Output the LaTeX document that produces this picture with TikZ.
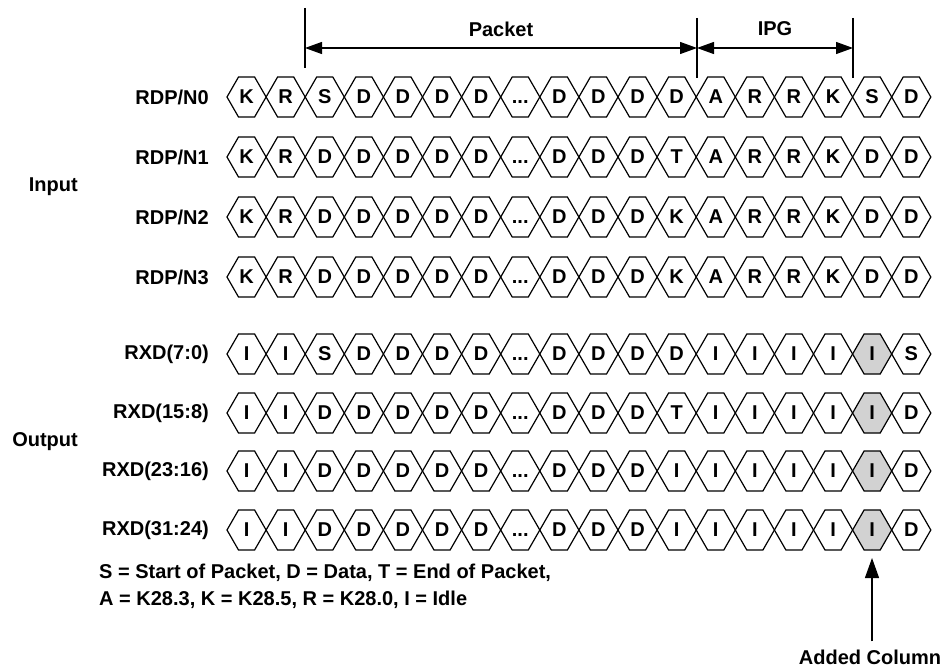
\documentclass[tikz,border=0pt]{standalone}
\usepackage{fontspec}
\setmainfont{Liberation Sans}
\usetikzlibrary{arrows.meta}
\newcommand\dts{...}
\begin{document}
\begin{tikzpicture}[x=1pt,y=-1pt,
  lbl/.style={font=\bfseries\fontsize{20}{23}\selectfont, inner sep=0pt},
  hexline/.style={draw=black, line width=1.2pt, line join=miter},
  tick/.style={line width=1.2pt},
  dimarrow/.style={{Triangle[length=17pt,width=12pt]}-{Triangle[length=17pt,width=12pt]}, line width=1.2pt},
  uparrow/.style={-{Triangle[length=20pt,width=14pt]}, line width=1.2pt},
  addfill/.style={fill={rgb,255:red,210;green,210;blue,210}}
]
\useasboundingbox (0,0) rectangle (947,669);
\fill[white] (0,0) rectangle (947,669);
\def\xo{227}\def\pp{39.1}\def\dd{11.5}\def\hh{20}
% grey cells (added column)
\foreach \yy in {354,413,471,530}{
  \pgfmathsetmacro\xa{\xo+16*\pp}
  \pgfmathsetmacro\xb{\xa+\pp}
  \fill[addfill] (\xa,\yy) -- (\xa+\dd,\yy-\hh) -- (\xb-\dd,\yy-\hh) -- (\xb,\yy) -- (\xb-\dd,\yy+\hh) -- (\xa+\dd,\yy+\hh) -- cycle;
}
% rows of hexagons
\foreach \yy/\rn/\cells in {
  97/a/{K,R,S,D,D,D,D,\dts,D,D,D,D,A,R,R,K,S,D},
  157/b/{K,R,D,D,D,D,D,\dts,D,D,D,T,A,R,R,K,D,D},
  217/c/{K,R,D,D,D,D,D,\dts,D,D,D,K,A,R,R,K,D,D},
  277/d/{K,R,D,D,D,D,D,\dts,D,D,D,K,A,R,R,K,D,D},
  354/e/{I,I,S,D,D,D,D,\dts,D,D,D,D,I,I,I,I,I,S},
  413/f/{I,I,D,D,D,D,D,\dts,D,D,D,T,I,I,I,I,I,D},
  471/g/{I,I,D,D,D,D,D,\dts,D,D,D,I,I,I,I,I,I,D},
  530/h/{I,I,D,D,D,D,D,\dts,D,D,D,I,I,I,I,I,I,D}}{
  \foreach \c [count=\i from 0] in \cells {
    \pgfmathsetmacro\xa{\xo+\i*\pp}
    \pgfmathsetmacro\xb{\xa+\pp}
    \draw[hexline] (\xa,\yy) -- (\xa+\dd,\yy-\hh) -- (\xb-\dd,\yy-\hh) -- (\xb,\yy) -- (\xb-\dd,\yy+\hh) -- (\xa+\dd,\yy+\hh) -- cycle;
    \node[lbl] (\rn\i) at ({(\xa+\xb)/2},\yy) {\vphantom{D}\c};
  }
}
% row labels
\node[lbl,anchor=east] (la) at (209,97) {RDP/N0};
\node[lbl,anchor=east] (lb) at (209,157) {RDP/N1};
\node[lbl,anchor=east] (lc) at (209,217) {RDP/N2};
\node[lbl,anchor=east] (ld) at (209,277) {RDP/N3};
\node[lbl,anchor=east] (le) at (209,354) {RXD(7:0)};
\node[lbl,anchor=east] (lf) at (209,413) {RXD(15:8)};
\node[lbl,anchor=east] (lg) at (209,471) {RXD(23:16)};
\node[lbl,anchor=east] (lh) at (209,530) {RXD(31:24)};
\node[lbl,anchor=east] (input) at (78,187) {Input};
\node[lbl,anchor=east] (output) at (78,442) {Output};
% dimension marks
\coordinate (t1a) at (305,8);   \coordinate (t1b) at (305,68);
\coordinate (t2a) at (697,18);  \coordinate (t2b) at (697,78);
\coordinate (t3a) at (853,18);  \coordinate (t3b) at (853,78);
\draw[tick] (t1a) -- (t1b);
\draw[tick] (t2a) -- (t2b);
\draw[tick] (t3a) -- (t3b);
\coordinate (pa) at (305,48); \coordinate (pb) at (697,48); \coordinate (pc) at (853,48);
\draw[dimarrow] (pa) -- (pb);
\draw[dimarrow] (pb) -- (pc);
\node[lbl] (packet) at (501,29) {Packet};
\node[lbl] (ipg) at (775,29) {IPG};
% legend
\node[lbl,anchor=west] (leg1) at (99,573) {S = Start of Packet, D = Data, T = End of Packet,};
\node[lbl,anchor=west] (leg2) at (99,600) {A = K28.3, K = K28.5, R = K28.0, I = Idle};
% added column
\node[lbl] (added) at (870,657) {Added Column};
\coordinate (addtip) at (872,558);
\draw[uparrow] (added.north -| addtip) ++(0,-8) coordinate (addtail) -- (addtip);
\end{tikzpicture}
\end{document}
